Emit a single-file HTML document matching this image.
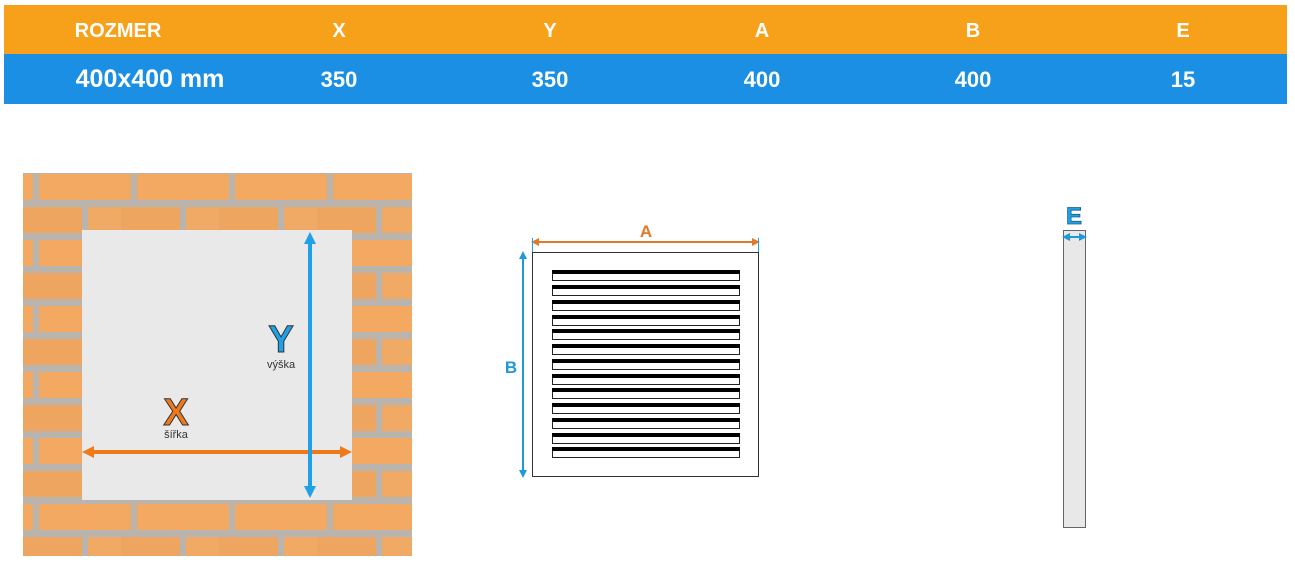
<!DOCTYPE html>
<html><head><meta charset="utf-8"><style>
body{margin:0;width:1295px;height:563px;background:#fff;overflow:hidden;font-family:"Liberation Sans",sans-serif}
.bar{position:absolute;left:4px;width:1283px;color:#fff;font-weight:bold}
.bar span{position:absolute;transform:translateX(-50%);white-space:nowrap}
</style></head><body>
<div class="bar" style="top:5px;height:49px;background:#f7a11a;font-size:20px">
<span style="left:114px;top:15px">ROZMER</span><span style="left:335px;top:15px">X</span><span style="left:546px;top:15px">Y</span><span style="left:758px;top:15px">A</span><span style="left:969px;top:15px">B</span><span style="left:1179px;top:15px">E</span></div>
<div class="bar" style="top:54px;height:50px;background:#1a8fe3;font-size:22px">
<span style="left:146px;top:11px;font-size:25px">400x400 mm</span><span style="left:335px;top:13px">350</span><span style="left:546px;top:13px">350</span><span style="left:758px;top:13px">400</span><span style="left:969px;top:13px">400</span><span style="left:1179px;top:13px">15</span></div>
<svg width="1295" height="563" style="position:absolute;left:0;top:0">
<defs>
<pattern id="br" x="23" y="170" width="98" height="66" patternUnits="userSpaceOnUse">
<rect width="98" height="66" fill="#b9b4ad"/>
<rect x="16" y="4" width="92" height="26" fill="#f3a962"/>
<rect x="-82" y="4" width="92" height="26" fill="#f3a962"/>
<rect x="-33" y="37" width="92" height="26" fill="#eda560"/>
<rect x="65" y="37" width="92" height="26" fill="#f0aa66"/>
</pattern>
<marker id="ao" viewBox="0 0 10 10" refX="5" refY="5" markerWidth="3" markerHeight="3" orient="auto-start-reverse"><path d="M0,0L10,5L0,10z" fill="#ef7a1a"/></marker>
<marker id="ab" viewBox="0 0 10 10" refX="5" refY="5" markerWidth="3" markerHeight="3" orient="auto-start-reverse"><path d="M0,0L10,5L0,10z" fill="#1ea1e6"/></marker>
<marker id="ao2" viewBox="0 0 10 10" refX="5" refY="5" markerWidth="4" markerHeight="4" orient="auto-start-reverse"><path d="M0,0L10,5L0,10z" fill="#e07a26"/></marker>
<marker id="ab2" viewBox="0 0 10 10" refX="5" refY="5" markerWidth="4" markerHeight="4" orient="auto-start-reverse"><path d="M0,0L10,5L0,10z" fill="#1e9ad8"/></marker>
</defs>
<rect x="23" y="173" width="389" height="383" fill="url(#br)"/>
<rect x="82" y="230" width="270" height="270" fill="#e9e9e9"/>
<line x1="88" y1="452" x2="346" y2="452" stroke="#ef7a1a" stroke-width="4" marker-start="url(#ao)" marker-end="url(#ao)"/>
<line x1="310" y1="238" x2="310" y2="492" stroke="#1ea1e6" stroke-width="4" marker-start="url(#ab)" marker-end="url(#ab)"/>
<text x="281" y="352" font-size="38" font-weight="bold" fill="#1ea1e6" stroke="#333" stroke-width="1" text-anchor="middle">Y</text>
<text x="281" y="368" font-size="11" fill="#333" text-anchor="middle">výška</text>
<text x="176" y="425" font-size="38" font-weight="bold" fill="#ef7a1a" stroke="#333" stroke-width="1" text-anchor="middle">X</text>
<text x="176" y="438" font-size="11" fill="#333" text-anchor="middle">šířka</text>
<rect x="532.5" y="252.5" width="226" height="224" fill="#fff" stroke="#333"/>
<line x1="535" y1="242" x2="756" y2="242" stroke="#e07a26" stroke-width="2" marker-start="url(#ao2)" marker-end="url(#ao2)"/>
<line x1="532.5" y1="238" x2="532.5" y2="252" stroke="#1ea1e6"/>
<line x1="758.5" y1="238" x2="758.5" y2="252" stroke="#1ea1e6"/>
<text x="646" y="237" font-size="17" font-weight="bold" fill="#e07a26" text-anchor="middle">A</text>
<line x1="523" y1="255" x2="523" y2="474" stroke="#1e9ad8" stroke-width="2" marker-start="url(#ab2)" marker-end="url(#ab2)"/>
<text x="511" y="373" font-size="17" font-weight="bold" fill="#1e9ad8" text-anchor="middle">B</text>
<g stroke="#222" fill="#fff">
<rect x="552.5" y="270.5" width="187" height="10"/><rect x="552.5" y="285.5" width="187" height="10"/><rect x="552.5" y="300.5" width="187" height="10"/><rect x="552.5" y="315.5" width="187" height="10"/><rect x="552.5" y="329.5" width="187" height="10"/><rect x="552.5" y="344.5" width="187" height="10"/><rect x="552.5" y="359.5" width="187" height="10"/><rect x="552.5" y="374.5" width="187" height="10"/><rect x="552.5" y="388.5" width="187" height="10"/><rect x="552.5" y="403.5" width="187" height="10"/><rect x="552.5" y="418.5" width="187" height="10"/><rect x="552.5" y="433.5" width="187" height="10"/><rect x="552.5" y="447.5" width="187" height="10"/>
</g>
<g fill="#000">
<rect x="552" y="270" width="188" height="4"/><rect x="552" y="285" width="188" height="4"/><rect x="552" y="300" width="188" height="4"/><rect x="552" y="315" width="188" height="4"/><rect x="552" y="329" width="188" height="4"/><rect x="552" y="344" width="188" height="4"/><rect x="552" y="359" width="188" height="4"/><rect x="552" y="374" width="188" height="4"/><rect x="552" y="388" width="188" height="4"/><rect x="552" y="403" width="188" height="4"/><rect x="552" y="418" width="188" height="4"/><rect x="552" y="433" width="188" height="4"/><rect x="552" y="447" width="188" height="4"/>
</g>
<rect x="1063.5" y="230.5" width="22" height="297" fill="#e8e8e8" stroke="#666"/>
<line x1="1066" y1="237" x2="1083" y2="237" stroke="#1e9ad8" stroke-width="2" marker-start="url(#ab2)" marker-end="url(#ab2)"/>
<text x="1074" y="224" font-size="24" font-weight="bold" fill="#1ea1e6" stroke="#1a5d8a" stroke-width="0.8" text-anchor="middle">E</text>
</svg>
</body></html>
